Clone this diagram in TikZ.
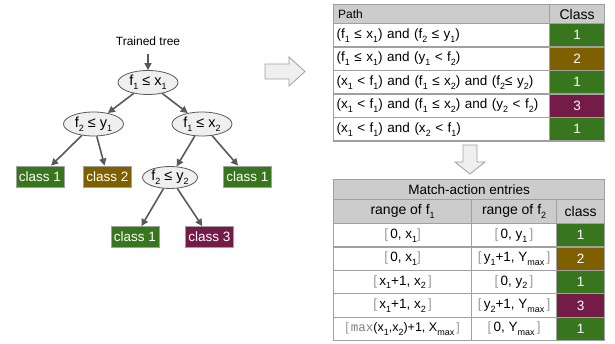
\documentclass[tikz,border=0pt]{standalone}
\usepackage{fontspec}
\setmainfont{Liberation Sans}
\setmonofont{Liberation Mono}
\usepackage{xcolor}
\usepackage{tikz}
\usetikzlibrary{shapes.geometric,arrows.meta}
\definecolor{leafgreen}{HTML}{38761D}
\definecolor{leafbrown}{HTML}{7F6000}
\definecolor{leafwine}{HTML}{741B47}
\definecolor{headgray}{HTML}{CCCCCC}
\definecolor{linegray}{HTML}{A0A0A0}
\definecolor{edgegray}{HTML}{595959}
\definecolor{testfill}{HTML}{EFEFEF}
\newcommand{\tsub}[1]{\raisebox{-0.55ex}{\fontsize{9}{10}\selectfont #1}}
\newcommand{\lbrk}{{\color{gray!80}[}}
\newcommand{\rbrk}{{\color{gray!80}]}}
\newcommand{\mx}{{\color{gray}\texttt{max}}}

\begin{document}
\begin{tikzpicture}[x=1pt,y=-1pt]
    % Styles
    \tikzstyle{branch}=[-{Triangle[length=7pt,width=7pt]}, line width=1.6pt, edgegray]
    \tikzstyle{test}=[ellipse, draw=edgegray, fill=testfill, line width=0.8pt, minimum width=60pt, minimum height=24pt, inner sep=0pt, font=\fontsize{14.5}{16}\selectfont]
    \tikzstyle{leaf}=[rectangle, draw=linegray, line width=0.8pt, text=white, minimum width=48pt, minimum height=21pt, inner sep=1pt, font=\fontsize{13.5}{16}\selectfont]
    \tikzstyle{tabcell}=[rectangle, draw=linegray, line width=1.2pt, anchor=north west, inner sep=0pt, font=\fontsize{13.5}{15}\selectfont]
    \tikzstyle{block}=[draw=linegray, fill=testfill, line width=0.8pt]
    \useasboundingbox (0,0) rectangle (615,344);
    % Trained tree
    \node[font=\fontsize{12}{14}\selectfont] (title) at (148,41) {Trained tree};
    \coordinate (titlearr) at (148,54);
    \node[test] (root) at (148,82.5) {f\tsub{1} ≤ x\tsub{1}};
    \node[test] (left) at (93.5,124) {f\tsub{2} ≤ y\tsub{1}};
    \node[test] (right) at (202,124) {f\tsub{1} ≤ x\tsub{2}};
    \node[leaf, fill=leafgreen] (leafa) at (40,176.5) {class 1};
    \node[leaf, fill=leafbrown] (leafb) at (107.5,176.5) {class 2};
    \node[test, minimum width=55pt, minimum height=22pt] (lower) at (170,177.5) {f\tsub{2} ≤ y\tsub{2}};
    \node[leaf, fill=leafgreen] (leafc) at (247.5,176.5) {class 1};
    \node[leaf, fill=leafgreen] (leafd) at (135,237) {class 1};
    \node[leaf, fill=leafwine] (leafe) at (209.5,237) {class 3};
    % Branches of the tree
    \draw[branch] (titlearr) -- (root);
    \draw[branch] (root) -- (left);
    \draw[branch] (root) -- (right);
    \draw[branch] (left) -- (leafa);
    \draw[branch] (left) -- (leafb);
    \draw[branch] (right) -- (lower);
    \draw[branch] (right) -- (leafc);
    \draw[branch] (lower) -- (leafd);
    \draw[branch] (lower) -- (leafe);
    % Block arrows between the parts
    \draw[block] (265,64) -- (289,64) -- (289,57) -- (305,71.5) -- (289,86) -- (289,79) -- (265,79) -- cycle;
    \draw[block] (463,145) -- (477,145) -- (477,162) -- (485,162) -- (470,174) -- (455,162) -- (463,162) -- cycle;
    % Path table
    \node[tabcell, fill=headgray, minimum width=216pt, minimum height=19pt, text width=207pt, inner xsep=4.5pt, align=left, font=\fontsize{12}{14}\selectfont] (pathhead) at (333,4) {Path};
    \node[tabcell, fill=headgray, minimum width=55pt, minimum height=19pt, font=\fontsize{14}{16}\selectfont] (classhead) at (549,4) {Class};
    \node[tabcell, minimum width=216pt, minimum height=23.5pt, text width=210pt, inner xsep=3pt, align=left] (patha) at (333,23) {(f\tsub{1} ≤ x\tsub{1}) and (f\tsub{2} ≤ y\tsub{1})};
    \node[tabcell, fill=leafgreen, text=white, minimum width=55pt, minimum height=23.5pt] (classa) at (549,23) {1};
    \node[tabcell, minimum width=216pt, minimum height=23.5pt, text width=210pt, inner xsep=3pt, align=left] (pathb) at (333,46.5) {(f\tsub{1} ≤ x\tsub{1}) and (y\tsub{1} < f\tsub{2})};
    \node[tabcell, fill=leafbrown, text=white, minimum width=55pt, minimum height=23.5pt] (classb) at (549,46.5) {2};
    \node[tabcell, minimum width=216pt, minimum height=23.5pt, text width=210pt, inner xsep=3pt, align=left] (pathc) at (333,70) {(x\tsub{1} < f\tsub{1}) and (f\tsub{1} ≤ x\tsub{2}) and (f\tsub{2}≤ y\tsub{2})};
    \node[tabcell, fill=leafgreen, text=white, minimum width=55pt, minimum height=23.5pt] (classc) at (549,70) {1};
    \node[tabcell, minimum width=216pt, minimum height=23.5pt, text width=210pt, inner xsep=3pt, align=left] (pathd) at (333,93.5) {(x\tsub{1} < f\tsub{1}) and (f\tsub{1} ≤ x\tsub{2}) and (y\tsub{2} < f\tsub{2})};
    \node[tabcell, fill=leafwine, text=white, minimum width=55pt, minimum height=23.5pt] (classd) at (549,93.5) {3};
    \node[tabcell, minimum width=216pt, minimum height=23.5pt, text width=210pt, inner xsep=3pt, align=left] (pathe) at (333,117) {(x\tsub{1} < f\tsub{1}) and (x\tsub{2} < f\tsub{1})};
    \node[tabcell, fill=leafgreen, text=white, minimum width=55pt, minimum height=23.5pt] (classe) at (549,117) {1};
    % Match-action table
    \node[tabcell, fill=headgray, minimum width=271pt, minimum height=20pt, font=\fontsize{13.5}{16}\selectfont] (mahead) at (333,179) {Match-action entries};
    \node[tabcell, fill=headgray, minimum width=138pt, minimum height=24pt, font=\fontsize{14}{16}\selectfont] (rangeahead) at (333,199) {range of f\tsub{1}};
    \node[tabcell, fill=headgray, minimum width=85pt, minimum height=24pt, font=\fontsize{14}{16}\selectfont] (rangebhead) at (471,199) {range of f\tsub{2}};
    \node[tabcell, fill=headgray, minimum width=48pt, minimum height=24pt, font=\fontsize{14}{16}\selectfont] (mahclass) at (556,199) {class};
    % Entry 1
    \node[tabcell, minimum width=138pt, minimum height=23.4pt] (rangeaa) at (333,223) {\lbrk\,0, x\tsub{1}\rbrk};
    \node[tabcell, minimum width=85pt, minimum height=23.4pt] (rangeba) at (471,223) {\lbrk\,0, y\tsub{1}\,\rbrk};
    \node[tabcell, fill=leafgreen, text=white, minimum width=48pt, minimum height=23.4pt] (entrya) at (556,223) {1};
    % Entry 2
    \node[tabcell, minimum width=138pt, minimum height=23.4pt] (rangeab) at (333,246.4) {\lbrk\,0, x\tsub{1}\rbrk};
    \node[tabcell, minimum width=85pt, minimum height=23.4pt] (rangebb) at (471,246.4) {\lbrk\,y\tsub{1}+1, Y\tsub{max}\,\rbrk};
    \node[tabcell, fill=leafbrown, text=white, minimum width=48pt, minimum height=23.4pt] (entryb) at (556,246.4) {2};
    % Entry 3
    \node[tabcell, minimum width=138pt, minimum height=23.4pt] (rangeac) at (333,269.8) {\lbrk\,x\tsub{1}+1, x\tsub{2}\,\rbrk};
    \node[tabcell, minimum width=85pt, minimum height=23.4pt] (rangebc) at (471,269.8) {\lbrk\,0, y\tsub{2}\,\rbrk};
    \node[tabcell, fill=leafgreen, text=white, minimum width=48pt, minimum height=23.4pt] (entryc) at (556,269.8) {1};
    % Entry 4
    \node[tabcell, minimum width=138pt, minimum height=23.4pt] (rangead) at (333,293.2) {\lbrk\,x\tsub{1}+1, x\tsub{2}\,\rbrk};
    \node[tabcell, minimum width=85pt, minimum height=23.4pt] (rangebd) at (471,293.2) {\lbrk\,y\tsub{2}+1, Y\tsub{max}\,\rbrk};
    \node[tabcell, fill=leafwine, text=white, minimum width=48pt, minimum height=23.4pt] (entryd) at (556,293.2) {3};
    % Entry 5
    \node[tabcell, minimum width=138pt, minimum height=23.4pt, font=\fontsize{12.5}{15}\selectfont] (rangeae) at (333,316.6) {\lbrk\,\mx(x\tsub{1},x\tsub{2})+1, X\tsub{max}\,\rbrk};
    \node[tabcell, minimum width=85pt, minimum height=23.4pt] (rangebe) at (471,316.6) {\lbrk\,0, Y\tsub{max}\,\rbrk};
    \node[tabcell, fill=leafgreen, text=white, minimum width=48pt, minimum height=23.4pt] (entrye) at (556,316.6) {1};
\end{tikzpicture}
\end{document}
